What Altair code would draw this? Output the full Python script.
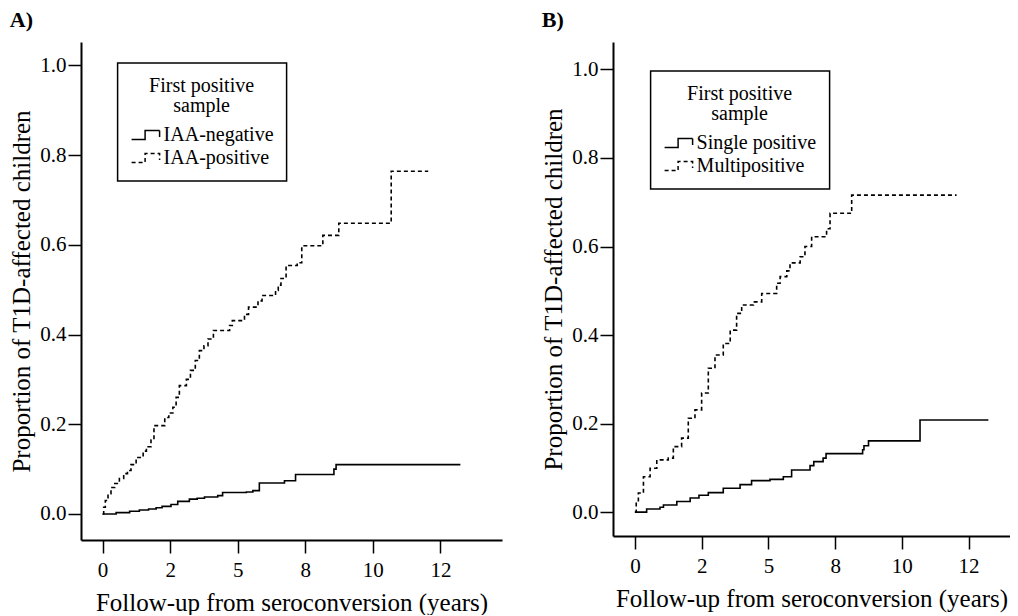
import altair as alt
import pandas as pd

# ---- Panel A: IAA-negative vs IAA-positive (Kaplan-Meier step data) ----
a_neg_t = [0, 0.5, 1.0, 1.36, 1.7, 1.98, 2.2, 2.53, 2.78, 3.21, 3.5, 3.77, 4.26, 4.44, 5.32, 5.56, 5.8, 6.73, 7.14, 8.56, 8.64, 13.24]
a_neg_v = [0, 0.003, 0.006, 0.009, 0.011, 0.014, 0.017, 0.021, 0.028, 0.033, 0.035, 0.038, 0.041, 0.048, 0.049, 0.052, 0.069, 0.074, 0.088, 0.10, 0.11, 0.11]

a_pos_t = [0, 0.04, 0.1, 0.2, 0.31, 0.45, 0.62, 0.78, 0.92, 1.05, 1.24, 1.5, 1.62, 1.79, 1.9, 2.3, 2.45, 2.6, 2.72, 2.84,
           3.1, 3.25, 3.43, 3.58, 3.75, 3.9, 4.1, 4.7, 4.8, 5.25, 5.4, 5.75, 5.9, 6.4, 6.5, 6.6, 6.79, 7.2, 7.37, 8.15,
           8.74, 10.68, 12.05]
a_pos_v = [0, 0.015, 0.03, 0.045, 0.059, 0.068, 0.079, 0.09, 0.097, 0.11, 0.126, 0.14, 0.15, 0.165, 0.197, 0.215, 0.225, 0.238, 0.26, 0.286,
           0.30, 0.32, 0.342, 0.364, 0.375, 0.39, 0.409, 0.42, 0.431, 0.445, 0.461, 0.475, 0.487, 0.498, 0.51, 0.525, 0.554, 0.56, 0.598, 0.621,
           0.648, 0.764, 0.764]

# ---- Panel B: Single positive vs Multipositive ----
b_single_t = [0, 0.44, 0.94, 1.07, 1.57, 2.07, 2.4, 2.75, 3.31, 3.94, 4.37, 5.06, 5.56, 5.87, 6.56, 6.7, 7.05, 7.16, 8.53, 8.58, 8.75, 10.68, 13.24]
b_single_v = [0, 0.007, 0.011, 0.016, 0.024, 0.032, 0.038, 0.044, 0.054, 0.062, 0.071, 0.074, 0.080, 0.095, 0.105, 0.114, 0.122, 0.132, 0.141, 0.15, 0.161, 0.208, 0.208]

b_multi_t = [0, 0.05, 0.13, 0.32, 0.57, 0.82, 1.25, 1.44, 1.75, 2.0, 2.25, 2.5, 2.75, 3.0, 3.31, 3.57, 3.81, 4.0, 4.44, 4.75,
             5.31, 5.44, 5.69, 5.81, 6.19, 6.37, 6.62, 7.18, 7.31, 8.12, 12.05]
b_multi_v = [0, 0.02, 0.043, 0.08, 0.099, 0.118, 0.122, 0.148, 0.167, 0.212, 0.231, 0.269, 0.325, 0.355, 0.381, 0.411, 0.449, 0.468, 0.475, 0.494,
             0.517, 0.532, 0.545, 0.563, 0.577, 0.60, 0.622, 0.64, 0.675, 0.716, 0.716]

a_groups = ["IAA-negative", "IAA-positive"]
b_groups = ["Single positive", "Multipositive"]

x_tick_values = [0, 2.5, 5, 7.5, 10, 12.5]
x_tick_labels = ["0", "2", "5", "8", "10", "12"]
y_tick_values = [0.0, 0.2, 0.4, 0.6, 0.8, 1.0]

legend_title = ["First positive", "sample"]
x_title = "Follow-up from seroconversion (years)"
y_title = "Proportion of T1D-affected children"

FONT = "Liberation Serif"

label_expr = "''"
for v, l in reversed(list(zip(x_tick_values, x_tick_labels))):
    label_expr = f"datum.value == {v} ? '{l}' : ({label_expr})"


def make_df(t1, v1, t2, v2, groups):
    d1 = pd.DataFrame({"t": t1, "v": v1, "g": groups[0]})
    d2 = pd.DataFrame({"t": t2, "v": v2, "g": groups[1]})
    return pd.concat([d1, d2], ignore_index=True)


def panel(df, groups, label, xdom, ydom, w, h, lx, ly):
    return alt.Chart(
        df,
        title=alt.TitleParams(label, anchor="start", font=FONT, fontSize=22,
                              fontWeight="bold", color="black", offset=10),
    ).mark_line(interpolate="step-after", color="black", strokeWidth=1.6).encode(
        x=alt.X("t:Q",
                scale=alt.Scale(domain=xdom, nice=False, zero=False),
                axis=alt.Axis(values=x_tick_values, labelExpr=label_expr, title=x_title)),
        y=alt.Y("v:Q",
                scale=alt.Scale(domain=ydom, nice=False, zero=False),
                axis=alt.Axis(values=y_tick_values, format=".1f", title=y_title)),
        strokeDash=alt.StrokeDash(
            "g:N",
            scale=alt.Scale(domain=groups, range=[[1, 0], [4, 3]]),
            legend=alt.Legend(
                title=legend_title, orient="none", legendX=lx, legendY=ly,
                strokeColor="black", padding=13,
                titleFont=FONT, titleFontSize=20, titleFontWeight="normal",
                titleColor="black", titleAlign="center", titleAnchor="middle",
                titleLineHeight=20, titlePadding=8,
                labelFont=FONT, labelFontSize=20, labelColor="black",
                labelOffset=11, rowPadding=2,
                symbolType="M-1,0.45H0.35V-0.45H1.8V0.2", symbolSize=400,
                symbolStrokeWidth=1.5, symbolStrokeColor="black",
                symbolFillColor="transparent",
            ),
        ),
    ).properties(width=w, height=h)


df_a = make_df(a_neg_t, a_neg_v, a_pos_t, a_pos_v, a_groups)
df_b = make_df(b_single_t, b_single_v, b_multi_t, b_multi_v, b_groups)

chart_a = panel(df_a, a_groups, "A)", [-0.8, 14.78], [-0.058, 1.052], 421, 498, 36.6, 21)
chart_b = panel(df_b, b_groups, "B)", [-0.82, 14.05], [-0.054, 1.062], 397, 494, 37.6, 29)

chart = alt.hconcat(chart_a, chart_b, spacing=39).resolve_scale(
    strokeDash="independent", x="independent", y="independent"
).properties(
    padding={"left": 1, "top": 1, "right": 0, "bottom": 0},
    background="white",
).configure_axis(
    grid=False, domainColor="black", domainWidth=2, tickColor="black",
    tickWidth=1.5, tickSize=13, labelFont=FONT, labelFontSize=21,
    labelColor="black", titleFont=FONT, titleColor="black", titleFontWeight="normal",
).configure_axisX(
    labelPadding=6, titleFontSize=25, titlePadding=10,
).configure_axisY(
    labelPadding=2, titleFontSize=25, titlePadding=5,
).configure_legend(
    strokeWidth=1.5,
).configure_view(
    strokeWidth=0,
)

chart.save("out.html", embed_options={"renderer": "svg", "actions": False})
